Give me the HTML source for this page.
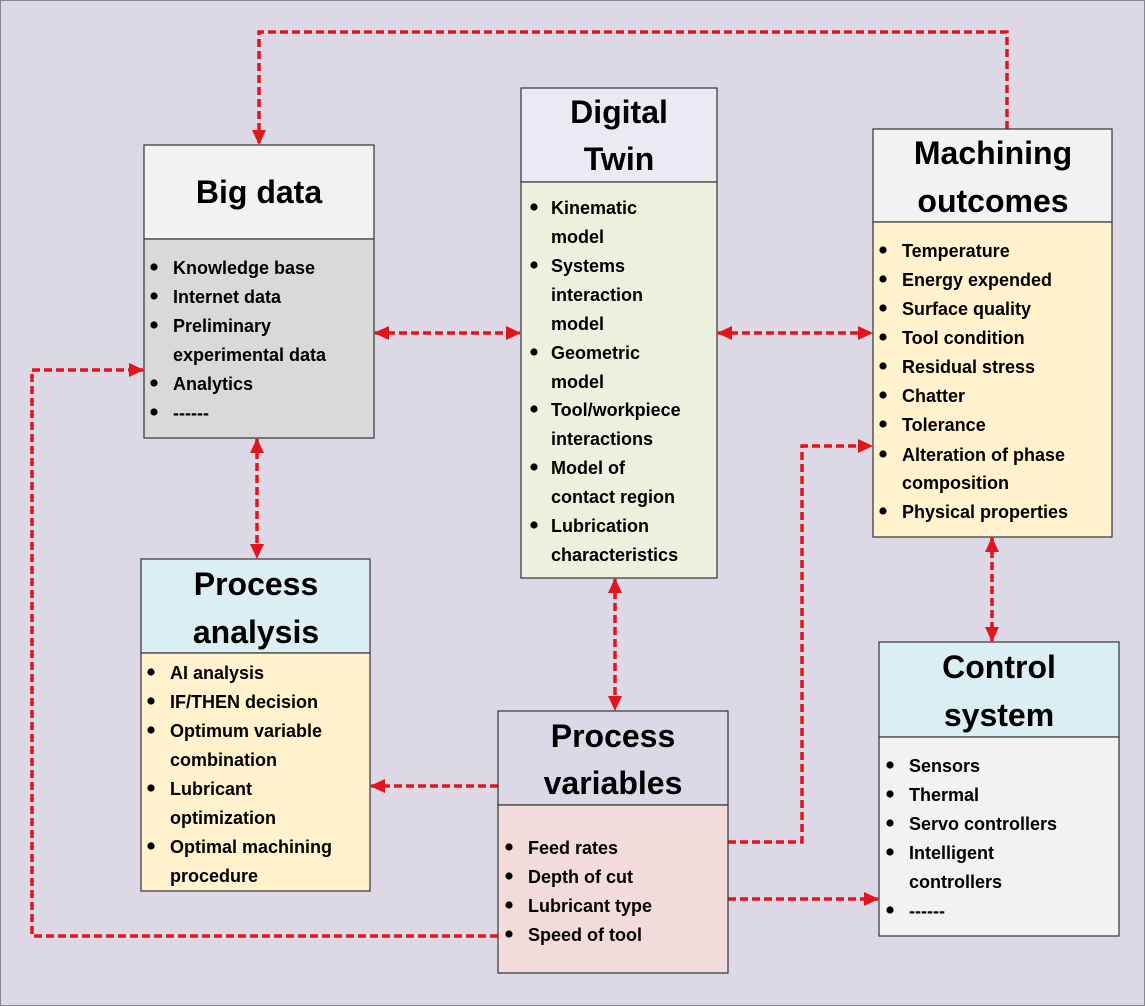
<!DOCTYPE html>
<html><head><meta charset="utf-8"><style>
html,body{margin:0;padding:0;background:#ddd8e6;}
svg{display:block;}
text{font-family:"Liberation Sans",Arial,sans-serif;font-weight:bold;fill:#000;}
.t{font-size:32px;text-anchor:middle;}
.b{font-size:18px;}
.bx{stroke:#333;stroke-width:1.2;}
.ln{stroke:#e3141c;stroke-width:3.5;stroke-dasharray:8 4;fill:none;}
</style></head><body>
<svg width="1145" height="1006" viewBox="0 0 1145 1006">
<defs>
<marker id="a" markerWidth="15" markerHeight="14" refX="14" refY="7" orient="auto-start-reverse" markerUnits="userSpaceOnUse" viewBox="0 0 15 14"><path d="M0,0 L15,7 L0,14z" fill="#e3141c"/></marker>
<symbol id="d" viewBox="-4 -4 8 8"><circle r="3.6" fill="#000"/></symbol>
</defs>
<rect x="0.5" y="0.5" width="1144" height="1005" fill="#ddd8e6" stroke="#888"/>

<path class="ln" d="M1007,129 V32 H259 V144" marker-end="url(#a)"/>
<path class="ln" d="M375,333 H520" marker-start="url(#a)" marker-end="url(#a)"/>
<path class="ln" d="M718,333 H872" marker-start="url(#a)" marker-end="url(#a)"/>
<path class="ln" d="M257,439 V558" marker-start="url(#a)" marker-end="url(#a)"/>
<path class="ln" d="M498,786 H371" marker-end="url(#a)"/>
<path class="ln" d="M615,579 V710" marker-start="url(#a)" marker-end="url(#a)"/>
<path class="ln" d="M728,842 H802 V446 H872" marker-end="url(#a)"/>
<path class="ln" d="M728,899 H878" marker-end="url(#a)"/>
<path class="ln" d="M992,538 V641" marker-start="url(#a)" marker-end="url(#a)"/>
<path class="ln" d="M498,936 H32 V370 H143" marker-end="url(#a)"/>

<rect class="bx" x="144" y="145" width="230" height="94" fill="#f2f2f2"/>
<rect class="bx" x="144" y="239" width="230" height="199" fill="#d9d9d9"/>
<text class="t" x="259" y="203">Big data</text>
<g class="b">
<use href="#d" x="150" y="263" width="8" height="8"/><text x="173" y="274">Knowledge base</text>
<use href="#d" x="150" y="292" width="8" height="8"/><text x="173" y="303">Internet data</text>
<use href="#d" x="150" y="321" width="8" height="8"/><text x="173" y="332">Preliminary</text>
<text x="173" y="361">experimental data</text>
<use href="#d" x="150" y="379" width="8" height="8"/><text x="173" y="390">Analytics</text>
<use href="#d" x="150" y="408" width="8" height="8"/><text x="173" y="419">------</text>
</g>

<rect class="bx" x="521" y="88" width="196" height="94" fill="#ede9f2"/>
<rect class="bx" x="521" y="182" width="196" height="396" fill="#ebf1de"/>
<text class="t" x="619" y="123">Digital</text>
<text class="t" x="619" y="170">Twin</text>
<g class="b">
<use href="#d" x="530" y="203" width="8" height="8"/><text x="551" y="214">Kinematic</text>
<text x="551" y="243">model</text>
<use href="#d" x="530" y="261" width="8" height="8"/><text x="551" y="272">Systems</text>
<text x="551" y="301">interaction</text>
<text x="551" y="330">model</text>
<use href="#d" x="530" y="348" width="8" height="8"/><text x="551" y="359">Geometric</text>
<text x="551" y="388">model</text>
<use href="#d" x="530" y="405" width="8" height="8"/><text x="551" y="416">Tool/workpiece</text>
<text x="551" y="445">interactions</text>
<use href="#d" x="530" y="463" width="8" height="8"/><text x="551" y="474">Model of</text>
<text x="551" y="503">contact region</text>
<use href="#d" x="530" y="521" width="8" height="8"/><text x="551" y="532">Lubrication</text>
<text x="551" y="561">characteristics</text>
</g>

<rect class="bx" x="873" y="129" width="239" height="93" fill="#f2f2f2"/>
<rect class="bx" x="873" y="222" width="239" height="315" fill="#fff2cc"/>
<text class="t" x="993" y="164">Machining</text>
<text class="t" x="993" y="212">outcomes</text>
<g class="b">
<use href="#d" x="879" y="246" width="8" height="8"/><text x="902" y="257">Temperature</text>
<use href="#d" x="879" y="275" width="8" height="8"/><text x="902" y="286">Energy expended</text>
<use href="#d" x="879" y="304" width="8" height="8"/><text x="902" y="315">Surface quality</text>
<use href="#d" x="879" y="333" width="8" height="8"/><text x="902" y="344">Tool condition</text>
<use href="#d" x="879" y="362" width="8" height="8"/><text x="902" y="373">Residual stress</text>
<use href="#d" x="879" y="391" width="8" height="8"/><text x="902" y="402">Chatter</text>
<use href="#d" x="879" y="420" width="8" height="8"/><text x="902" y="431">Tolerance</text>
<use href="#d" x="879" y="450" width="8" height="8"/><text x="902" y="461">Alteration of phase</text>
<text x="902" y="489">composition</text>
<use href="#d" x="879" y="507" width="8" height="8"/><text x="902" y="518">Physical properties</text>
</g>

<rect class="bx" x="141" y="559" width="229" height="94" fill="#daeef3"/>
<rect class="bx" x="141" y="653" width="229" height="238" fill="#fff2cc"/>
<text class="t" x="256" y="595">Process</text>
<text class="t" x="256" y="643">analysis</text>
<g class="b">
<use href="#d" x="147" y="668" width="8" height="8"/><text x="170" y="679">AI analysis</text>
<use href="#d" x="147" y="697" width="8" height="8"/><text x="170" y="708">IF/THEN decision</text>
<use href="#d" x="147" y="726" width="8" height="8"/><text x="170" y="737">Optimum variable</text>
<text x="170" y="766">combination</text>
<use href="#d" x="147" y="784" width="8" height="8"/><text x="170" y="795">Lubricant</text>
<text x="170" y="824">optimization</text>
<use href="#d" x="147" y="842" width="8" height="8"/><text x="170" y="853">Optimal machining</text>
<text x="170" y="882">procedure</text>
</g>

<rect class="bx" x="498" y="711" width="230" height="94" fill="#ddd8e6"/>
<rect class="bx" x="498" y="805" width="230" height="168" fill="#f2dcdb"/>
<text class="t" x="613" y="747">Process</text>
<text class="t" x="613" y="794">variables</text>
<g class="b">
<use href="#d" x="505" y="843" width="8" height="8"/><text x="528" y="854">Feed rates</text>
<use href="#d" x="505" y="872" width="8" height="8"/><text x="528" y="883">Depth of cut</text>
<use href="#d" x="505" y="901" width="8" height="8"/><text x="528" y="912">Lubricant type</text>
<use href="#d" x="505" y="930" width="8" height="8"/><text x="528" y="941">Speed of tool</text>
</g>

<rect class="bx" x="879" y="642" width="240" height="95" fill="#daeef3"/>
<rect class="bx" x="879" y="737" width="240" height="199" fill="#f2f2f2"/>
<text class="t" x="999" y="678">Control</text>
<text class="t" x="999" y="726">system</text>
<g class="b">
<use href="#d" x="886" y="761" width="8" height="8"/><text x="909" y="772">Sensors</text>
<use href="#d" x="886" y="790" width="8" height="8"/><text x="909" y="801">Thermal</text>
<use href="#d" x="886" y="819" width="8" height="8"/><text x="909" y="830">Servo controllers</text>
<use href="#d" x="886" y="848" width="8" height="8"/><text x="909" y="859">Intelligent</text>
<text x="909" y="888">controllers</text>
<use href="#d" x="886" y="906" width="8" height="8"/><text x="909" y="917">------</text>
</g>
</svg>
</body></html>
